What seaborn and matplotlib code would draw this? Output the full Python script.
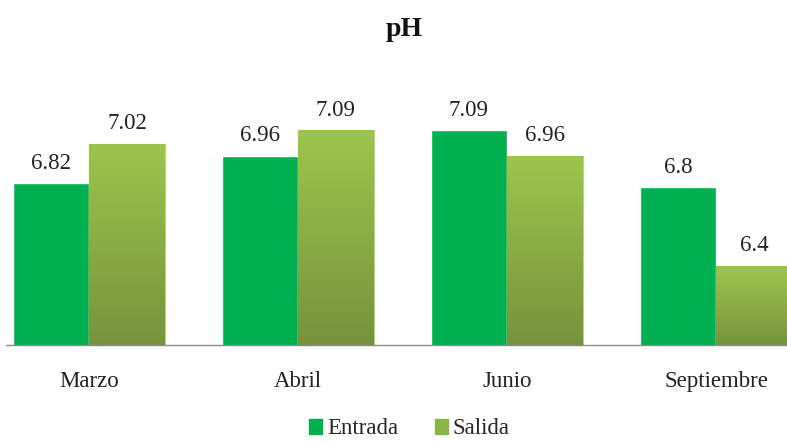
import numpy as np
import pandas as pd
import matplotlib
matplotlib.use("Agg")
import matplotlib.pyplot as plt
from matplotlib.colors import LinearSegmentedColormap
from matplotlib.patches import Patch
import seaborn as sns

meses = ["Marzo", "Abril", "Junio", "Septiembre"]
entrada = [6.82, 6.96, 7.09, 6.8]
salida = [7.02, 7.09, 6.96, 6.4]
series = ["Entrada", "Salida"]

df = pd.DataFrame({
    "mes": meses * 2,
    "serie": [series[0]] * 4 + [series[1]] * 4,
    "ph": entrada + salida,
})

sns.set_style("white")
plt.rcParams["font.family"] = ["Liberation Serif", "DejaVu Serif"]

fig = plt.figure(figsize=(7.87, 4.42), dpi=100)
ax = fig.add_axes([6 / 787, 97 / 442, 1 - 6 / 787, 236.4 / 442])

verde = "#00B050"
oliva_top, oliva_bot = "#9DC54C", "#76933C"
sns.barplot(data=df, x="mes", y="ph", hue="serie", palette=[verde, "#8AAE45"],
            width=0.727, gap=0, saturation=1, ax=ax, legend=False)

xlim = (-0.397, 3.34)
ylim = (6.0, 7.2)

# gradient fill on the Salida bars
cmap = LinearSegmentedColormap.from_list("g", [oliva_bot, oliva_top])
grad = np.linspace(0, 1, 256).reshape(-1, 1)
n = len(meses)
for i, p in enumerate(ax.patches[:2 * n]):
    if i >= n:
        x0, y0 = p.get_x(), ylim[0]
        x1, y1 = x0 + p.get_width(), p.get_height()
        im = ax.imshow(grad, cmap=cmap, origin="lower", aspect="auto",
                       extent=[x0, x1, y0, y1], zorder=p.get_zorder())
        im.set_clip_path(p)
        p.set_edgecolor("#B5D67A")
        p.set_linewidth(0.8)

for i, p in enumerate(ax.patches[:2 * n]):
    v = (entrada + salida)[i]
    ax.annotate(f"{v:g}", (p.get_x() + p.get_width() / 2, p.get_height()),
                xytext=(0, 7), textcoords="offset points", ha="center",
                va="bottom", fontsize=16.5, color="#222222")

ax.set_xlim(*xlim)
ax.set_ylim(*ylim)
ax.set_xlabel("")
ax.set_ylabel("")
ax.set_yticks([])
ax.tick_params(axis="x", length=0, pad=19, labelsize=16.5, colors="#222222")
for s in ["top", "left", "right"]:
    ax.spines[s].set_visible(False)
ax.spines["bottom"].set_color("#8C8C8C")
ax.spines["bottom"].set_linewidth(1)

fig.text(0.513, 1 - 30 / 442, "pH", ha="center", va="center",
         fontsize=20, fontweight="bold", color="#111111")

handles = [Patch(color=verde), Patch(color="#8AB448")]
fig.legend(handles, series, loc="center", bbox_to_anchor=(0.52, 13 / 442),
           ncol=2, frameon=False, fontsize=16.5, handlelength=0.6,
           handleheight=0.6, handletextpad=0.2, columnspacing=1.6)

fig.savefig("out.png", dpi=100)
